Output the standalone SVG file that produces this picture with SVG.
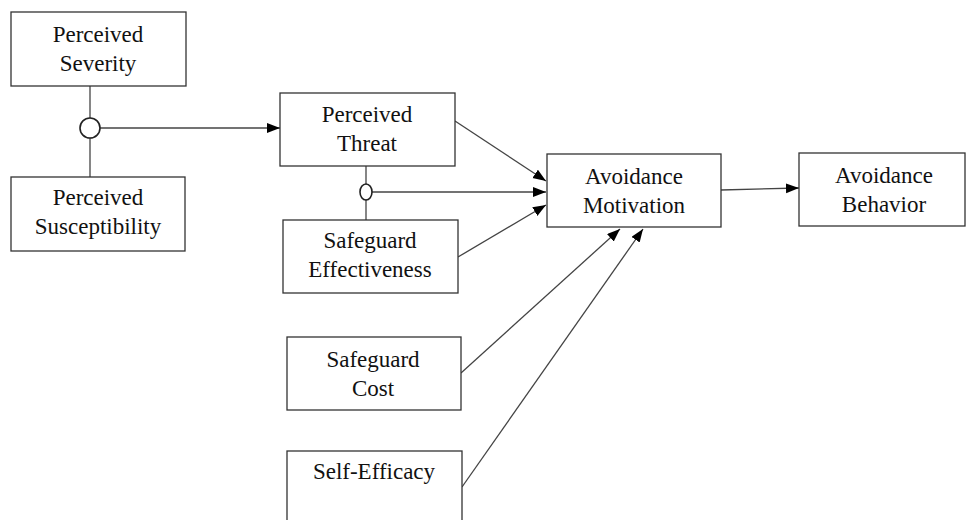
<svg xmlns="http://www.w3.org/2000/svg" width="966" height="520" viewBox="0 0 966 520">
<style>
.box{fill:#fff;stroke:#333;stroke-width:1.3}
.t{font-family:"Liberation Serif","Times New Roman",serif;font-size:23px;fill:#111;text-anchor:middle}
.c{stroke:#444;stroke-width:1.3;fill:none}
.a{stroke:#444;stroke-width:1.3;fill:none;marker-end:url(#ah)}
.j{fill:#fff;stroke:#222;stroke-width:1.6}
</style>
<defs>
<marker id="ah" markerUnits="userSpaceOnUse" markerWidth="14" markerHeight="12" refX="13" refY="5" orient="auto">
<path d="M0,0 L13,5 L0,10 z" fill="#000"/>
</marker>
</defs>
<rect width="966" height="520" fill="#fff"/>
<g id="connectors">
<line class="c" x1="90" y1="86" x2="90" y2="177"/>
<line class="a" x1="100" y1="128" x2="280" y2="128"/>
<line class="c" x1="366" y1="166" x2="366" y2="220"/>
<line class="a" x1="372" y1="192" x2="546" y2="192"/>
<line class="a" x1="455" y1="121" x2="546" y2="181"/>
<line class="a" x1="458" y1="257" x2="546" y2="205"/>
<line class="a" x1="461" y1="373" x2="620" y2="229"/>
<line class="a" x1="462" y1="487" x2="643" y2="229"/>
<line class="a" x1="721" y1="190" x2="799" y2="188"/>
<circle class="j" cx="90" cy="128" r="10"/>
<ellipse class="j" cx="366" cy="192" rx="6" ry="8" stroke-width="1.3"/>
</g>
<g id="perceived-severity">
<rect class="box" x="11" y="12" width="175" height="74"/>
<text class="t" x="98" y="42">Perceived</text>
<text class="t" x="98" y="71">Severity</text>
</g>
<g id="perceived-susceptibility">
<rect class="box" x="11" y="177" width="174" height="74"/>
<text class="t" x="98" y="205">Perceived</text>
<text class="t" x="98" y="234">Susceptibility</text>
</g>
<g id="perceived-threat">
<rect class="box" x="280" y="93" width="175" height="73"/>
<text class="t" x="367" y="122">Perceived</text>
<text class="t" x="367" y="151">Threat</text>
</g>
<g id="safeguard-effectiveness">
<rect class="box" x="283" y="220" width="175" height="73"/>
<text class="t" x="370" y="248">Safeguard</text>
<text class="t" x="370" y="277">Effectiveness</text>
</g>
<g id="avoidance-motivation">
<rect class="box" x="547" y="154" width="174" height="73"/>
<text class="t" x="634" y="184">Avoidance</text>
<text class="t" x="634" y="213">Motivation</text>
</g>
<g id="avoidance-behavior">
<rect class="box" x="799" y="153" width="166" height="73"/>
<text class="t" x="884" y="183">Avoidance</text>
<text class="t" x="884" y="212">Behavior</text>
</g>
<g id="safeguard-cost">
<rect class="box" x="287" y="337" width="174" height="73"/>
<text class="t" x="373" y="367">Safeguard</text>
<text class="t" x="373" y="396">Cost</text>
</g>
<g id="self-efficacy">
<rect class="box" x="287" y="451" width="175" height="80"/>
<text class="t" x="374" y="479">Self-Efficacy</text>
</g>
</svg>
